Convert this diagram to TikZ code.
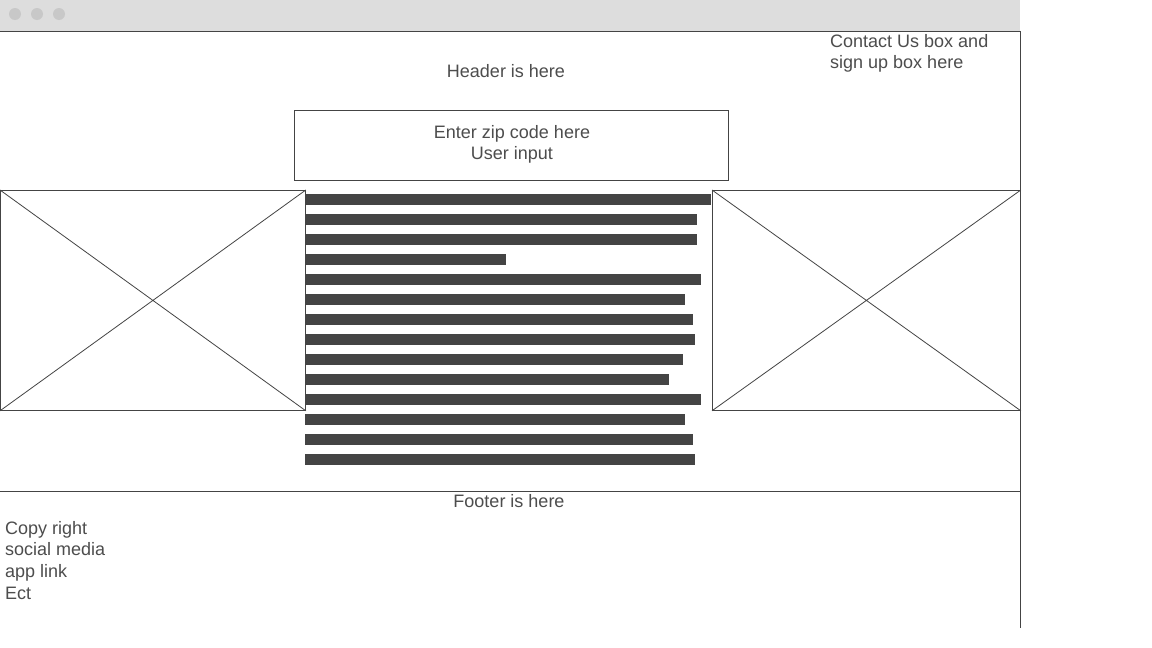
\documentclass[tikz,border=0pt]{standalone}
\usepackage{fontspec}
\setmainfont{Liberation Sans}
\definecolor{lineC}{HTML}{444444}
\definecolor{textC}{HTML}{4D4D4D}
\definecolor{barC}{HTML}{444444}
\definecolor{titleC}{HTML}{DDDDDD}
\definecolor{dotC}{HTML}{C8C8C8}
\begin{document}
\begin{tikzpicture}[x=1pt,y=-1pt,
  lbl/.style={text=textC,font=\fontsize{18}{21.6}\selectfont,inner sep=0pt,align=center},
  lbll/.style={lbl,align=left},
  frame/.style={draw=lineC,line width=1pt},
  thin/.style={draw=lineC,line width=0.8pt},
  bar/.style={fill=barC,draw=none}]
\useasboundingbox (0,0) rectangle (1152,648);
\fill[white] (0,0) rectangle (1152,648);
% title bar
\fill[titleC] (0,0) rectangle (1020,31);
\foreach \i/\x in {1/15,2/37,3/59} \fill[dotC] (\x,14) circle (6);
\draw[frame] (0,31) -- (1020,31) -- (1020,628);
% header
\node[lbl] (header) at (506,71.5) {Header is here};
\node[lbll,anchor=north west] (contact) at (830,34) {Contact Us box and\\sign up box here};
\node[thin,minimum width=434pt,minimum height=70pt,anchor=north west] (zip) at (294,110) {};
\node[lbl] (ziptext) at (512,144.5) {Enter zip code here\\User input};
% image placeholders
\node[thin,minimum width=305pt,minimum height=220pt,anchor=north west,inner sep=0pt] (imgL) at (0,190) {};
\draw[thin] (imgL.north west) -- (imgL.south east) (imgL.south west) -- (imgL.north east);
\node[thin,minimum width=308pt,minimum height=220pt,anchor=north west,inner sep=0pt] (imgR) at (712,190) {};
\draw[thin] (imgR.north west) -- (imgR.south east) (imgR.south west) -- (imgR.north east);
% text bars
\foreach \y/\r in {194/711,214/697,234/697,254/506,274/701,294/685,314/693,334/695,354/683,374/669,394/701,414/685,434/693,454/695}
  \fill[barC] (305,\y) rectangle (\r,\y+11);
% footer
\draw[frame] (0,491) -- (1020,491);
\node[lbl] (footer) at (509,501.5) {Footer is here};
\node[lbll,anchor=north west] (footL) at (5,521) {Copy right\\social media\\app link\\Ect};
\end{tikzpicture}
\end{document}
